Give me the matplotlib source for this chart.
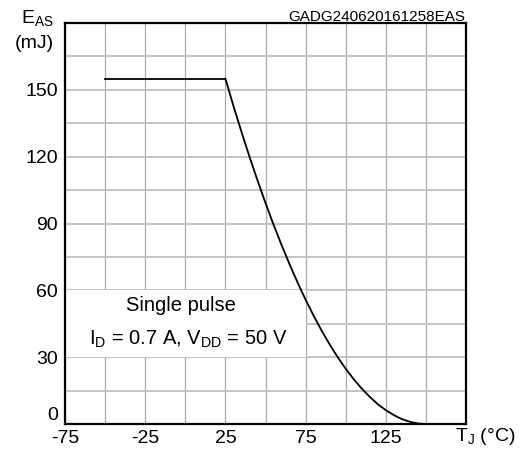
import numpy as np
import matplotlib
matplotlib.use('Agg')
import matplotlib.pyplot as plt
from matplotlib.patches import Rectangle

plt.rcParams['font.family'] = ['Liberation Sans', 'DejaVu Sans']

# flat part of the curve
flat_t = [-50, 25]
flat_e = [155, 155]

# falling part
tj = [25, 30, 35, 40, 45, 50, 55, 60, 65, 70, 75, 80, 85, 90, 95,
      100, 105, 110, 115, 120, 125, 130, 135, 140, 145, 150]
eas = [155, 142.8, 131.2, 120.0, 109.4, 99.2, 89.5, 80.4, 71.7, 63.5, 55.8, 48.6, 41.9, 35.7, 30.0,
       24.8, 20.1, 15.9, 12.2, 8.9, 6.2, 4.0, 2.2, 1.0, 0.25, 0]

x_labels = [-75, -25, 25, 75, 125]
y_labels = [0, 30, 60, 90, 120, 150]

fig = plt.figure(figsize=(5.28, 4.53), dpi=100)
ax = fig.add_axes([65 / 528, 29 / 453, 401 / 528, 401 / 453])

ax.set_xlim(-75, 175)
ax.set_ylim(0, 180)
ax.set_xticks(x_labels)
ax.set_xticks(np.arange(-50, 175, 50), minor=True)
ax.set_yticks(y_labels)
ax.set_yticks(np.arange(15, 180, 30), minor=True)
ax.set_xticklabels([str(v) for v in x_labels])
ax.set_yticklabels([str(v) for v in y_labels])
ax.tick_params(which='both', length=0, labelsize=14)
ax.tick_params(axis='x', pad=4)
ax.tick_params(axis='y', pad=5)
ax.get_yticklabels()[0].set_va('bottom')

ax.grid(axis='x', which='both', color='#aaaaaa', lw=0.9, zorder=0)
ax.grid(axis='y', which='both', color='#c4c4c4', lw=1.4, zorder=0)
ax.set_axisbelow(True)

for s in ax.spines.values():
    s.set_linewidth(1.6)
    s.set_zorder(5)

# white box behind the conditions text
ax.add_patch(Rectangle((-75, 30), 150, 30, facecolor='white', edgecolor='none', zorder=1))

ax.plot(flat_t, flat_e, color='black', lw=1.3, zorder=3)
ax.plot(tj, eas, color='black', lw=1.3, zorder=3)

ax.text(-3, 53, 'Single pulse', ha='center', va='center', fontsize=14.5, zorder=4)
ax.text(2, 38, r'I$_\mathregular{D}$ = 0.7 A, V$_\mathregular{DD}$ = 50 V',
        ha='center', va='center', fontsize=14.5, zorder=4)

fig.text(54 / 528, 1 - 24 / 453, r'E$_\mathregular{AS}$', ha='right', va='baseline', fontsize=14)
fig.text(54 / 528, 1 - 48 / 453, '(mJ)', ha='right', va='baseline', fontsize=14)
fig.text(465 / 528, 1 - 21 / 453, 'GADG240620161258EAS', ha='right', va='baseline', fontsize=11)
fig.text(455 / 528, 1 - 441 / 453, r'T$_\mathregular{J}$ (°C)', ha='left', va='baseline', fontsize=14)

fig.savefig('out.png', dpi=100)
